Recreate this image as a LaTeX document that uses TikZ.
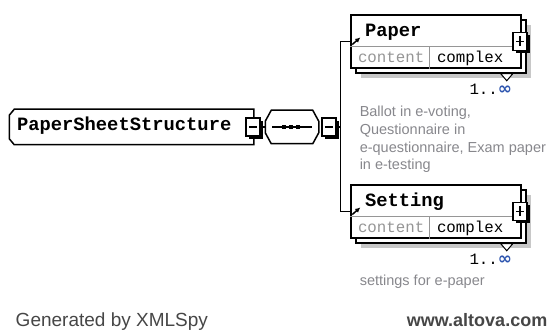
\documentclass[tikz,border=0pt]{standalone}
\usepackage{fontspec}
\setmainfont{Liberation Sans}
\newfontfamily\boxfont{Liberation Mono}
\newfontfamily\symfont{DejaVu Sans}
\usetikzlibrary{shadows,arrows.meta,calc}

\definecolor{shadowgrey}{RGB}{200,200,200}
\definecolor{notegrey}{RGB}{135,135,140}
\definecolor{rowgrey}{RGB}{150,150,150}
\definecolor{infblue}{RGB}{45,85,175}
\definecolor{footgrey}{RGB}{70,70,70}

\begin{document}
\begin{tikzpicture}[x=1pt,y=-1pt,line width=1.5pt,
  frame/.style={rectangle,inner sep=0pt},
  elembox/.style={rectangle,draw,fill=white,inner sep=0pt,
    minimum width=170pt,minimum height=53pt,
    general shadow={fill=shadowgrey,shadow xshift=10pt,shadow yshift=-10pt},
    general shadow={fill=white,draw=black,shadow xshift=5pt,shadow yshift=-5pt}},
  btn/.style={rectangle,draw,fill=white,inner sep=0pt,
    minimum width=14pt,minimum height=18pt,
    general shadow={fill=black,shadow xshift=3pt,shadow yshift=-3pt}},
  namefont/.style={font=\boxfont\bfseries\fontsize{18.8}{20}\selectfont,inner sep=0pt},
  rowfont/.style={font=\boxfont\fontsize{15.8}{17}\selectfont,inner sep=0pt},
  note/.style={font=\fontsize{14.5}{17.7}\selectfont,text=notegrey,align=left,inner sep=0pt},
  occurs/.style={font=\boxfont\fontsize{15.8}{17}\selectfont,inner sep=0pt},
  rowline/.style={draw=rowgrey,line width=1pt},
  foot/.style={font=\fontsize{19}{22}\selectfont,text=footgrey,inner sep=0pt}]

\useasboundingbox (0,0) rectangle (556,336);

% ---------- root element ----------
\node[frame,minimum width=243pt,minimum height=34pt] (root) at (131.5,127) {};
\fill[shadowgrey,shift={(5,5)}]
  ($(root.north west)+(5,0)$) -- (root.north east) -- (root.south east)
  -- ($(root.south west)+(5,0)$) -- ($(root.south west)+(0,-6)$)
  -- ($(root.north west)+(0,6)$) -- cycle;
\draw[fill=white]
  ($(root.north west)+(5,0)$) -- (root.north east) -- (root.south east)
  -- ($(root.south west)+(5,0)$) -- ($(root.south west)+(0,-6)$)
  -- ($(root.north west)+(0,6)$) -- cycle;
\node[namefont,anchor=base west] (rootname) at ($(root.west)+(7,4)$) {PaperSheetStructure};
\node[btn] (rootminus) at ($(root.east)+(-1,0)$) {};
\draw ($(rootminus.center)+(-4,0)$) -- ($(rootminus.center)+(4,0)$);

% ---------- sequence compositor ----------
\node[frame,minimum width=52pt,minimum height=32pt] (seq) at (292,127) {};
\fill[shadowgrey,shift={(5,5)}]
  ($(seq.north west)+(6,0)$) -- ($(seq.north east)+(-6,0)$)
  -- ($(seq.north east)+(0,11)$) -- ($(seq.south east)+(0,-11)$)
  -- ($(seq.south east)+(-6,0)$) -- ($(seq.south west)+(6,0)$)
  -- ($(seq.south west)+(0,-11)$) -- ($(seq.north west)+(0,11)$) -- cycle;
\draw[fill=white]
  ($(seq.north west)+(6,0)$) -- ($(seq.north east)+(-6,0)$)
  -- ($(seq.north east)+(0,11)$) -- ($(seq.south east)+(0,-11)$)
  -- ($(seq.south east)+(-6,0)$) -- ($(seq.south west)+(6,0)$)
  -- ($(seq.south west)+(0,-11)$) -- ($(seq.north west)+(0,11)$) -- cycle;
\draw[line width=1.2pt] ($(seq.center)+(-20,0)$) -- ($(seq.center)+(20,0)$);
\foreach \dx in {-8,-1,6}
  \fill ($(seq.center)+(\dx-1.7,-2)$) rectangle ($(seq.center)+(\dx+1.7,2)$);
\node[btn] (seqminus) at ($(seq.east)+(10,0)$) {};
\draw ($(seqminus.center)+(-4,0)$) -- ($(seqminus.center)+(4,0)$);

\draw (rootminus.east) -- (seq.west);

% ---------- child elements ----------
\node[elembox] (paper) at (436,41.5) {};
\node[elembox] (setting) at (436,211.5) {};

\foreach \el/\label in {paper/Paper,setting/Setting}{
  \draw[rowline] ($(\el.north west)+(0,32)$) -- ($(\el.north east)+(0,32)$);
  \draw[rowline] ($(\el.north west)+(79,32)$) -- ($(\el.south west)+(79,0)$);
  \node[namefont,anchor=base west] (\el name) at ($(\el.north west)+(14,22)$) {\label};
  \node[rowfont,text=rowgrey,anchor=base west] (\el content) at ($(\el.north west)+(7,48)$) {content};
  \node[rowfont,anchor=base west] (\el type) at ($(\el.north west)+(86,48)$) {complex};
  \draw[-{Latex[length=5pt,width=5pt]}] ($(\el.west)+(2,3)$) -- ($(\el.west)+(10,-4)$);
  \node[btn] (\el plus) at ($(\el.east)+(-2,0)$) {};
  \draw ($(\el plus.center)+(-4,0)$) -- ($(\el plus.center)+(4,0)$);
  \draw ($(\el plus.center)+(0,-5)$) -- ($(\el plus.center)+(0,5)$);
  \draw[fill=white,line width=1pt] ($(\el.south east)+(-21,5)$) -- ($(\el.south east)+(-9,5)$)
    -- ($(\el.south east)+(-15,12)$) -- cycle;
  \node[occurs,anchor=base west] (\el occ) at ($(\el.south east)+(-53,26)$)
    {1..{\symfont\bfseries\fontsize{17}{17}\selectfont\color{infblue}∞}};
}

% ---------- connectors ----------
\coordinate (trunk) at ($(seqminus.east)+(4,0)$);
\draw (seqminus.east) -- (trunk);
\draw (paper.west) -- (trunk |- paper.west) -- (trunk |- setting.west) -- (setting.west);

% ---------- annotations ----------
\node[note,anchor=base west] (papernote) at (359,170)
  {Ballot in e-voting,\\Questionnaire in\\e-questionnaire, Exam paper\\in e-testing};
\node[note,anchor=base west] (settingnote) at (359,286) {settings for e-paper};

% ---------- footer ----------
\node[foot,anchor=base west] (gen) at (15,326) {Generated by XMLSpy};
\node[foot,font=\bfseries\fontsize{18}{22}\selectfont,anchor=base east] (alt) at (548,326) {www.altova.com};
\end{tikzpicture}
\end{document}
